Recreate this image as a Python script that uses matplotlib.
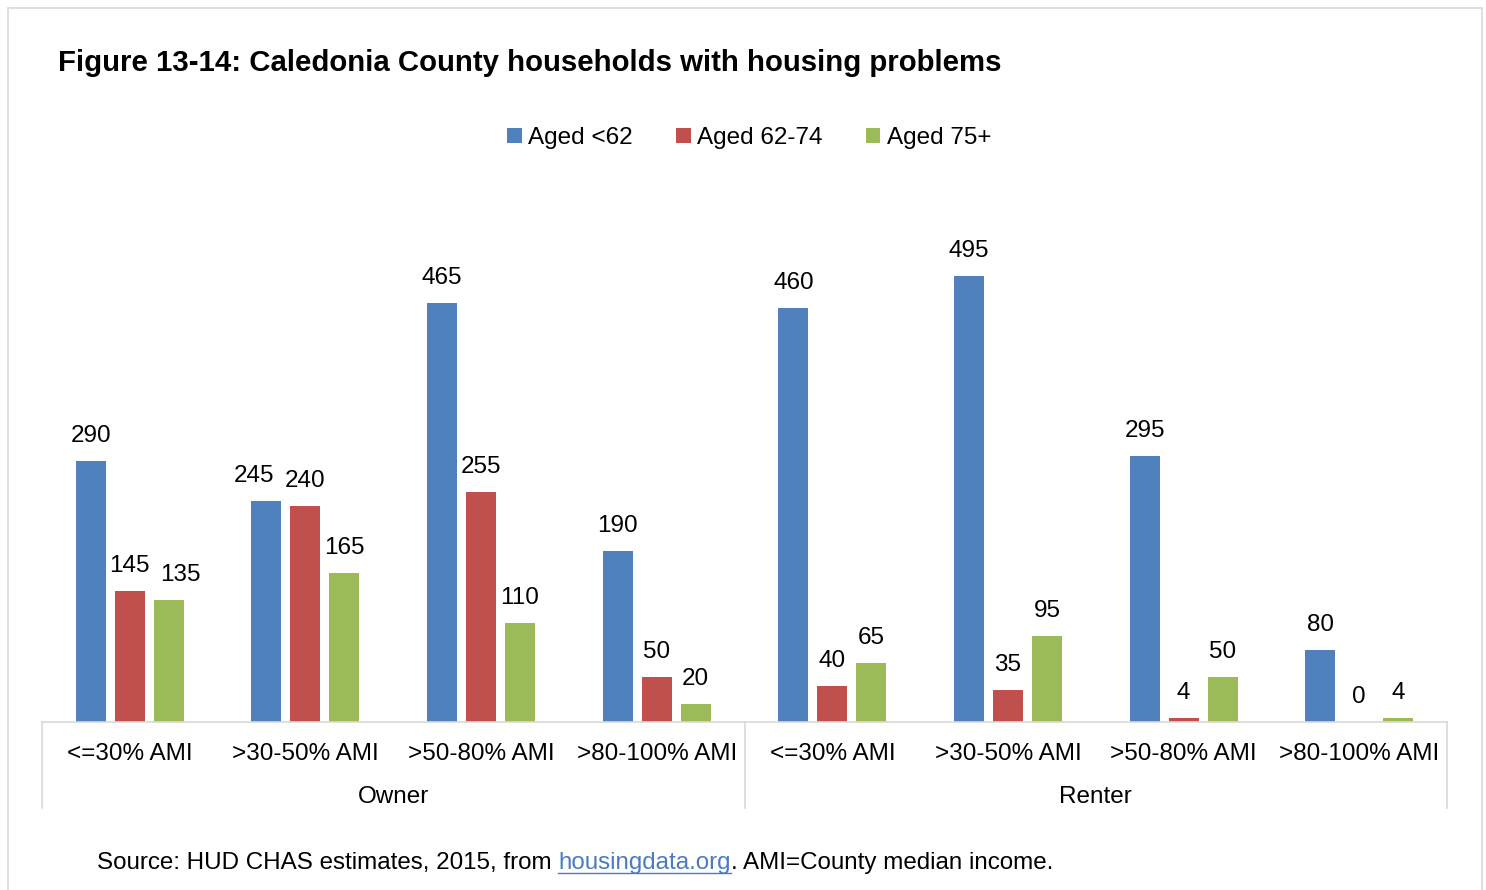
import numpy as np
import matplotlib.pyplot as plt
from matplotlib.patches import Rectangle
from matplotlib.lines import Line2D

plt.rcParams['font.family'] = ['Liberation Sans', 'DejaVu Sans']

# households with housing problems, by tenure / income band / age
bands = ['<=30% AMI', '>30-50% AMI', '>50-80% AMI', '>80-100% AMI',
         '<=30% AMI', '>30-50% AMI', '>50-80% AMI', '>80-100% AMI']
tenure = ['Owner', 'Renter']
series = ['Aged <62', 'Aged 62-74', 'Aged 75+']
aged_lt62 = [290, 245, 465, 190, 460, 495, 295, 80]
aged_62_74 = [145, 240, 255, 50, 40, 35, 4, 0]
aged_75 = [135, 165, 110, 20, 65, 95, 50, 4]
colors = ['#4F81BD', '#C0504D', '#9BBB59']

# sideways nudges (points) for labels that would collide: (series, band) -> dx
nudge = {(0, 1): -9, (2, 0): 8}

W, H = 1486, 890
FS = 17.5
fig = plt.figure(figsize=(W / 100, H / 100), dpi=100)

# outer frame
fig.patches.append(Rectangle((8 / W, -0.01), (1482 - 8) / W, (H - 8) / H + 0.01,
                             transform=fig.transFigure, fill=False,
                             edgecolor='#D9D9D9', lw=1.2))

ax_l, ax_r, ax_b, ax_t = 42, 1447, 722, 199.4
ax = fig.add_axes([ax_l / W, (H - ax_b) / H, (ax_r - ax_l) / W, (ax_b - ax_t) / H])

x = np.arange(len(bands))
step = 0.222
bw = 0.171
for k, (vals, c, name) in enumerate(zip([aged_lt62, aged_62_74, aged_75], colors, series)):
    pos = x + (k - 1) * step
    ax.bar(pos, vals, width=bw, color=c, label=name)
    for i, (px_, v) in enumerate(zip(pos, vals)):
        ax.annotate(str(v), (px_, v), xytext=(nudge.get((k, i), 0), 18),
                    textcoords='offset points', ha='center', va='center',
                    fontsize=FS, color='#000000')

ax.set_xlim(-0.5, 7.5)
ax.set_ylim(0, 580)
ax.set_yticks([])
for s in ['left', 'right', 'top']:
    ax.spines[s].set_visible(False)
ax.spines['bottom'].set_color('#D9D9D9')
ax.spines['bottom'].set_linewidth(1.2)
ax.set_xticks(x)
ax.set_xticklabels(bands, fontsize=FS)
ax.tick_params(axis='x', length=0, pad=15)

# tenure group labels and separators below the axis
axh = ax_b - ax_t
tr = ax.get_xaxis_transform()
for xs in [-0.5, 3.5, 7.5]:
    ax.add_line(Line2D([xs, xs], [0, -86 / axh], transform=tr, color='#D9D9D9',
                       lw=1.2, clip_on=False))
for xc, name in zip([1.5, 5.5], tenure):
    ax.text(xc, -75 / axh, name, transform=tr, ha='center', va='center', fontsize=FS)

fig.text(58 / W, 1 - 63 / H, 'Figure 13-14: Caledonia County households with housing problems',
         fontsize=21.2, fontweight='bold', ha='left', va='center')

fig.legend(loc='center', bbox_to_anchor=(749 / W, 1 - 138 / H), ncol=3, frameon=False,
           fontsize=FS, handlelength=0.6, handleheight=0.6, handletextpad=0.25,
           columnspacing=1.8)

# source line with link-styled site name
fig.canvas.draw()
r = fig.canvas.get_renderer()
y_src = 1 - 863 / H
SFS = 17.35
t1 = fig.text(97 / W, y_src, 'Source: HUD CHAS estimates, 2015, from ', fontsize=SFS,
              ha='left', va='center')
bb = t1.get_window_extent(r)
t2 = fig.text(bb.x1 / W, y_src, 'housingdata.org', fontsize=SFS, color='#4A7BC4',
              ha='left', va='center')
bb2 = t2.get_window_extent(r)
fig.add_artist(Line2D([bb2.x0 / W, bb2.x1 / W], [(bb2.y0 + 1) / H] * 2,
                      transform=fig.transFigure, color='#4A7BC4', lw=1))
fig.text(bb2.x1 / W, y_src, '. AMI=County median income.', fontsize=SFS,
         ha='left', va='center')

fig.savefig('out.png', dpi=100)
